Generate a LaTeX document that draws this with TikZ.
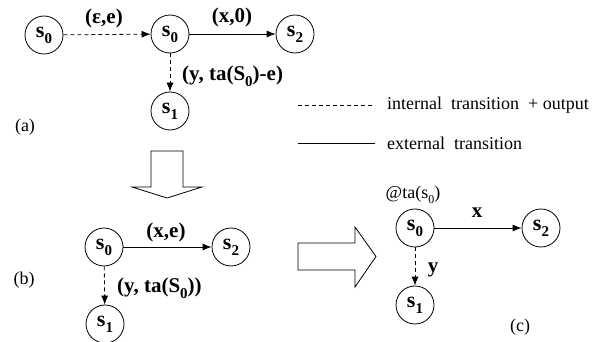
\documentclass[tikz,border=0pt]{standalone}
\usepackage{fontspec}
\setmainfont{Liberation Serif}
\usetikzlibrary{arrows.meta}
\newcommand{\lowidx}[1]{\raisebox{-0.28em}{\fontsize{15}{15}\selectfont #1}}
\newcommand{\lowidxs}[1]{\raisebox{-0.25em}{\fontsize{12}{12}\selectfont #1}}
\begin{document}
\begin{tikzpicture}[x=1pt,y=-1pt,
  state/.style={circle,draw,line width=0.8pt,minimum size=38pt,inner sep=0pt,
    font=\fontsize{22}{24}\selectfont\bfseries},
  lbl/.style={inner sep=0pt,font=\fontsize{21}{24}\selectfont\bfseries},
  txt/.style={inner sep=0pt,font=\fontsize{18}{20}\selectfont},
  ext/.style={draw,line width=0.8pt,-{Latex[length=9pt,width=7pt]}},
  intl/.style={ext,dash pattern=on 4pt off 3pt},
  hollow/.style={draw,line width=0.8pt,fill=white,line join=miter}]
\useasboundingbox (0,0) rectangle (611,342);

% (a)
\node[state] (a0l) at (44,35) {s\lowidx{0}};
\node[state] (a0) at (170,34) {s\lowidx{0}};
\node[state] (a2) at (295,34) {s\lowidx{2}};
\node[state] (a1) at (170,111) {s\lowidx{1}};
\draw[intl] (a0l) -- (a0);
\draw[ext] (a0) -- (a2);
\draw[intl] (a0) -- (a1);
\node[lbl] (la1) at (104,18) {(ε,e)};
\node[lbl] (la2) at (232,17) {(x,0)};
\node[lbl,anchor=west] (la3) at (182,76) {(y, ta(S\lowidx{0})-e)};
\node[txt] (ta) at (25,127) {(a)};

% legend
\coordinate (l1a) at (298,105);
\coordinate (l1b) at (375,105);
\coordinate (l2a) at (298,143);
\coordinate (l2b) at (375,143);
\draw[line width=0.8pt,dash pattern=on 4pt off 3pt] (l1a) -- (l1b);
\draw[line width=0.8pt] (l2a) -- (l2b);
\node[txt,anchor=west] (lt1) at (387,105) {internal\ \ transition\ \ +\ output};
\node[txt,anchor=west] (lt2) at (387,143) {external\ \ transition};

% big arrows
\draw[hollow] (151,151) -- (183,151) -- (183,187) -- (202,187) -- (167,198)
  -- (132,187) -- (151,187) -- cycle;
\draw[hollow] (298,243) -- (355,243) -- (355,227) -- (376,256.5) -- (355,287)
  -- (355,270) -- (298,270) -- cycle;

% (b)
\node[state] (b0) at (104,247) {s\lowidx{0}};
\node[state] (b2) at (231,247) {s\lowidx{2}};
\node[state] (b1) at (105,324) {s\lowidx{1}};
\draw[ext] (b0) -- (b2);
\draw[intl] (b0) -- (b1);
\node[lbl] (lb1) at (166,232) {(x,e)};
\node[lbl,anchor=west] (lb2) at (117,288) {(y, ta(S\lowidx{0}))};
\node[txt] (tb) at (24,280) {(b)};

% (c)
\node[state] (c0) at (415,228) {s\lowidx{0}};
\node[state] (c2) at (541,228) {s\lowidx{2}};
\node[state] (c1) at (415,305) {s\lowidx{1}};
\draw[ext] (c0) -- (c2);
\draw[intl] (c0) -- (c1);
\node[txt] (lc0) at (413,195) {@ta(s\lowidxs{0})};
\node[lbl] (lc1) at (477,213) {x};
\node[lbl] (lc2) at (433,270) {y};
\node[txt] (tc) at (520,327) {(c)};
\end{tikzpicture}
\end{document}
